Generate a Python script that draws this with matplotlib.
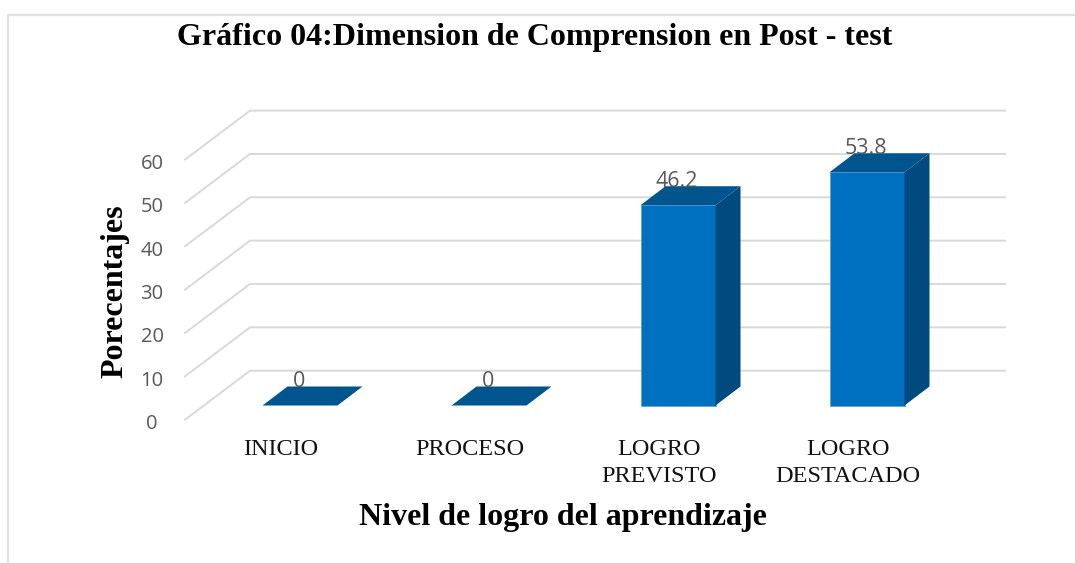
'''
Grafico 04: bar chart with a fake 3D look, drawn on one axes that fills the figure.
'''
import matplotlib
matplotlib.use('Agg')
import matplotlib.pyplot as plt
from matplotlib.patches import Polygon, Rectangle

# --- Data ---
categories = ['INICIO', 'PROCESO', 'LOGRO\nPREVISTO', 'LOGRO\nDESTACADO']
values = [0, 0, 46.2, 53.8]
value_labels = ['0', '0', '46.2', '53.8']
y_ticks = [0, 10, 20, 30, 40, 50, 60]

title = 'Gráfico 04:Dimension de Comprension en Post - test'
x_title = 'Nivel de logro del aprendizaje'
y_title = 'Porecentajes'

# --- Pixel layout of the reference ---
W, H = 1075, 563
x0, x_step = 300.0, 189.0   # centre of first bar, spacing between bars
y0, y_step = 405.5, 4.335   # value 0 at the bar front, pixels per unit
bar_w = 75 / x_step
dx, dy = 25 / x_step, 19 / y_step          # bar depth
wall_dx, wall_dy = 65 / x_step, 49 / y_step  # floor depth
back_y = (405.5 - 370.7) / y_step            # back wall value 0 sits above the bars
wall_left = (250 - x0) / x_step
wall_right = (1005 - x0) / x_step

front_c, top_c, side_c = '#0070c0', '#00558f', '#004a80'
grid_c = '#d9d9d9'
text_c = '#595959'

fig = plt.figure(figsize=(W / 100, H / 100), dpi=100)
ax = fig.add_axes([0, 0, 1, 1])
ax.set_xlim(-x0 / x_step, (W - x0) / x_step)
ax.set_ylim((y0 - H) / y_step, y0 / y_step)
ax.axis('off')


def px_x(px):
    return (px - x0) / x_step


def px_y(py):
    return (y0 - py) / y_step


# --- Outer frame, runs off the right and bottom edges ---
ax.plot([px_x(8.5), px_x(8.5), px_x(W)], [px_y(H), px_y(14.5), px_y(14.5)], color='#e0e0e0', lw=1.6, zorder=1)

# --- Gridlines on the wall and the floor ---
for t in y_ticks:
    yb = back_y + t
    ax.plot([wall_left - wall_dx, wall_left, wall_right], [yb - wall_dy, yb, yb], color=grid_c, lw=1.4, zorder=1, solid_joinstyle='miter')
    ax.text(px_x(152), yb - wall_dy - 1.0, str(t), ha='center', va='center', color=text_c, fontsize=14.5, family='Open Sans', zorder=6)

# --- Bars ---
for i, (v, lab) in enumerate(zip(values, value_labels)):
    l, r = i - bar_w / 2, i + bar_w / 2
    if v > 0:
        ax.add_patch(Rectangle((l, 0), bar_w, v, fc=front_c, ec='#5b9bd5', lw=0.5, zorder=3))
        ax.add_patch(Polygon([(r, 0), (r + dx, dy), (r + dx, v + dy), (r, v)], fc=side_c, ec='none', zorder=3))
    ax.add_patch(Polygon([(l, v), (r, v), (r + dx, v + dy), (l + dx, v + dy)], fc=top_c, ec='none', zorder=3))
    ax.text(i - 0.005, v + dy + 1.2, lab, ha='center', va='center', color=text_c, fontsize=15.5, family='Open Sans', zorder=5)

# --- Category labels ---
for i, c in enumerate(categories):
    ax.text(i - 0.1, px_y(439), c, ha='center', va='top', fontsize=17.5, family='Liberation Serif', color='#111111', linespacing=1.38, zorder=6)

# --- Titles ---
ax.text(px_x(535), px_y(37), title, ha='center', va='center', fontsize=23, fontweight='bold', family='Liberation Serif', color='black')
ax.text(px_x(563), px_y(517), x_title, ha='center', va='center', fontsize=23, fontweight='bold', family='Liberation Serif', color='black')
ax.text(px_x(115), px_y(291), y_title, ha='center', va='center', rotation=90, fontsize=23, fontweight='bold', family='Liberation Serif', color='black')

fig.savefig('out.png', dpi=100)
